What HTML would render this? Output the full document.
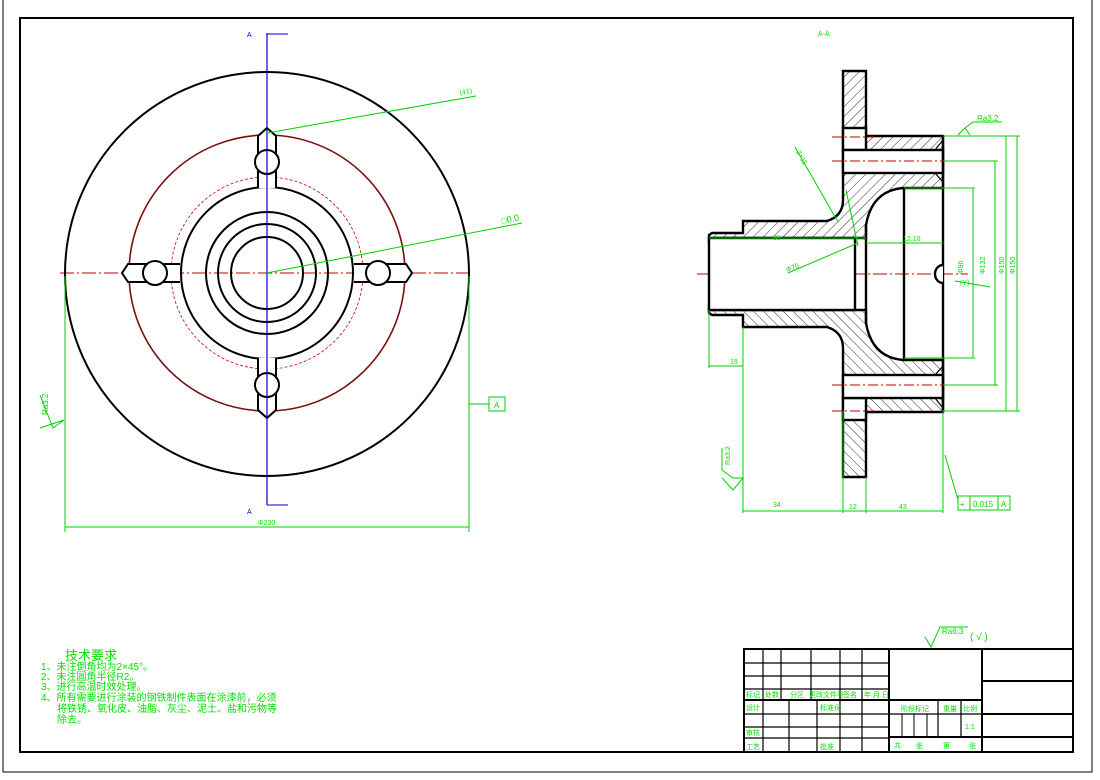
<!DOCTYPE html>
<html><head><meta charset="utf-8"><style>
html,body{margin:0;padding:0;background:#fff;}
svg{display:block;}
text{font-family:"Liberation Sans","Noto Sans CJK SC",sans-serif;fill:#00e000;}
</style></head><body>
<svg width="1100" height="780" viewBox="0 0 1100 780" xmlns="http://www.w3.org/2000/svg">
<defs>
<pattern id="h" width="7" height="7" patternUnits="userSpaceOnUse" patternTransform="rotate(45)">
<rect width="7" height="7" fill="#fff"/><line x1="0" y1="0" x2="0" y2="7" stroke="#000" stroke-width="0.8"/>
</pattern>
</defs>
<rect width="1100" height="780" fill="#fff"/>
<!-- frames -->
<path d="M3 0 V772 H1092 V0" fill="none" stroke="#000" stroke-width="1"/>
<rect x="20" y="18" width="1053" height="734" fill="none" stroke="#000" stroke-width="2"/>

<!-- LEFT VIEW -->
<g fill="none">
<line x1="60" y1="273" x2="472" y2="273" stroke="#c00000" stroke-width="1" stroke-dasharray="14,3,2,3"/>
<circle cx="267" cy="274" r="202" stroke="#000" stroke-width="2"/>
<circle cx="267" cy="273" r="138" stroke="#7a1010" stroke-width="1.6"/>
<circle cx="267" cy="273" r="96" stroke="#d00000" stroke-width="0.8" stroke-dasharray="3,2"/>
<circle cx="267" cy="273" r="86" stroke="#000" stroke-width="2"/>
<circle cx="267" cy="273" r="61" stroke="#000" stroke-width="2"/>
<circle cx="267" cy="273" r="49" stroke="#000" stroke-width="2"/>
<circle cx="267" cy="273" r="36" stroke="#000" stroke-width="2"/>
<g stroke="#000" stroke-width="2" fill="#fff">
<path d="M258 188 V136 L267 128 L276 136 V188"/>
<circle cx="267" cy="162" r="12"/>
<path d="M258 358 V410 L267 418 L276 410 V358"/>
<circle cx="267" cy="385" r="12"/>
<path d="M180 264 H128 L122 273 L128 282 H180"/>
<circle cx="155" cy="273" r="12"/>
<path d="M354 264 H406 L412 273 L406 282 H354"/>
<circle cx="378" cy="273" r="12"/>
</g>
<line x1="267" y1="33" x2="267" y2="505" stroke="#0000d0" stroke-width="1.2"/>
<line x1="267" y1="34" x2="288" y2="34" stroke="#0000d0" stroke-width="1"/>
<line x1="267" y1="505" x2="288" y2="505" stroke="#0000d0" stroke-width="1"/>
<g stroke="#00d000" stroke-width="1">
<line x1="267" y1="133" x2="476" y2="96"/>
<line x1="267" y1="273" x2="522" y2="223"/>
<line x1="65" y1="276" x2="65" y2="532"/>
<line x1="469" y1="276" x2="469" y2="532"/>
<line x1="65" y1="527" x2="469" y2="527"/>
<line x1="469" y1="404" x2="489" y2="404"/>
<rect x="489" y="397" width="16" height="14"/>
<path d="M40 395 L53 428 L64 420 L40 428"/>
</g>
</g>
<text x="247" y="37" font-size="7" style="fill:#0000d0">A</text>
<text x="247" y="514" font-size="7" style="fill:#0000d0">A</text>
<text x="460" y="95" font-size="7" transform="rotate(-10 460 95)">(41)</text>
<text x="502" y="224" font-size="9" transform="rotate(-12 502 224)">□0.0</text>
<text x="258" y="525" font-size="7">Φ230</text>
<text x="494" y="408" font-size="8">A</text>
<text x="48" y="415" font-size="8" transform="rotate(-90 48 415)">Ra3.2</text>

<!-- RIGHT VIEW -->
<text x="818" y="36" font-size="7">A-A</text>
<line x1="697" y1="274" x2="968" y2="274" stroke="#c00000" stroke-width="1" stroke-dasharray="14,3,2,3"/>
<g id="half" stroke="#000" stroke-width="2.4">
<path d="M843 71 H866 V136 H943 V188 H904 Q872 190 866 225 V238 H712 L709 241 V235 L712 233 H743 V221 H827 Q843 216 843 200 Z" fill="url(#h)"/>
<rect x="843" y="128" width="23" height="22" fill="#fff"/>
<rect x="843" y="150" width="100" height="23" fill="#fff"/>
<line x1="935" y1="150" x2="943" y2="140" stroke-width="1.2"/>
<line x1="935" y1="173" x2="943" y2="182" stroke-width="1.2"/>
</g>
<g transform="translate(0,548) scale(1,-1)" stroke="#000" stroke-width="2.4">
<path d="M843 71 H866 V136 H943 V188 H904 Q872 190 866 225 V238 H712 L709 241 V235 L712 233 H743 V221 H827 Q843 216 843 200 Z" fill="url(#h)"/>
<rect x="843" y="128" width="23" height="22" fill="#fff"/>
<rect x="843" y="150" width="100" height="23" fill="#fff"/>
<line x1="935" y1="150" x2="943" y2="140" stroke-width="1.2"/>
<line x1="935" y1="173" x2="943" y2="182" stroke-width="1.2"/>
</g>
<g fill="none" stroke="#000" stroke-width="2.4">
<rect x="709" y="238" width="146" height="72" fill="#fff"/>
<line x1="904" y1="188" x2="904" y2="360"/>
<line x1="866" y1="225" x2="866" y2="323"/>
<line x1="943" y1="136" x2="943" y2="411"/>
<path d="M943 265 A8 9 0 0 0 943 283" fill="#fff"/>
</g>
<g stroke="#c00000" stroke-width="1" stroke-dasharray="10,3,2,3">
<line x1="832" y1="137" x2="875" y2="137"/>
<line x1="832" y1="161" x2="955" y2="161"/>
<line x1="832" y1="385" x2="955" y2="385"/>
<line x1="832" y1="411" x2="875" y2="411"/>
</g>
<g stroke="#00d000" stroke-width="1" fill="none">
<line x1="943" y1="136" x2="1020" y2="136"/>
<line x1="943" y1="411" x2="1020" y2="411"/>
<line x1="943" y1="161" x2="998" y2="161"/>
<line x1="943" y1="385" x2="998" y2="385"/>
<line x1="904" y1="188" x2="975" y2="188"/>
<line x1="904" y1="358" x2="975" y2="358"/>
<line x1="973" y1="188" x2="973" y2="358"/>
<line x1="995" y1="161" x2="995" y2="385"/>
<line x1="1006" y1="136" x2="1006" y2="411"/>
<line x1="1017" y1="136" x2="1017" y2="411"/>
<path d="M958 135 L965 128 L970 135 M965 128 L973 122 H1002"/>
<line x1="709" y1="310" x2="709" y2="368"/>
<line x1="743" y1="327" x2="743" y2="513"/>
<line x1="709" y1="366" x2="743" y2="366"/>
<line x1="843" y1="411" x2="843" y2="513"/>
<line x1="866" y1="477" x2="866" y2="513"/>
<line x1="943" y1="411" x2="943" y2="513"/>
<line x1="743" y1="511" x2="943" y2="511"/>
<line x1="709" y1="238" x2="866" y2="238"/>
<line x1="866" y1="243" x2="943" y2="243"/>
<line x1="788" y1="273" x2="858" y2="243"/>
<line x1="795" y1="147" x2="838" y2="222"/>
<line x1="846" y1="190" x2="858" y2="246"/>
<line x1="955" y1="281" x2="990" y2="287"/>
<line x1="945" y1="455" x2="958" y2="500"/>
<rect x="958" y="496" width="52" height="14"/>
<line x1="970" y1="496" x2="970" y2="510"/>
<line x1="998" y1="496" x2="998" y2="510"/>
<path d="M722 448 V470 L733 478 L743 478 L733 490 L722 478"/>
</g>
<text x="773" y="240" font-size="7">65</text>
<text x="903" y="241" font-size="7">12.10</text>
<text x="787" y="272" font-size="7" transform="rotate(-20 787 272)">Φ70</text>
<text x="963" y="274" font-size="7" transform="rotate(-90 963 274)">Φ96</text>
<text x="985" y="274" font-size="7" transform="rotate(-90 985 274)">Φ132</text>
<text x="1004" y="274" font-size="7" transform="rotate(-90 1004 274)">Φ150</text>
<text x="1015" y="274" font-size="7" transform="rotate(-90 1015 274)">Φ150</text>
<text x="977" y="121" font-size="8">Ra3.2</text>
<text x="730" y="364" font-size="7">19</text>
<text x="773" y="507" font-size="7">34</text>
<text x="849" y="509" font-size="7">12</text>
<text x="899" y="509" font-size="7">43</text>
<text x="960" y="507" font-size="8">⌖</text>
<text x="973" y="507" font-size="8">0.015</text>
<text x="1001" y="507" font-size="8">A</text>
<text x="796" y="152" font-size="7" transform="rotate(60 796 152)">2×11</text>
<text x="960" y="285" font-size="7">(Y)</text>
<text x="730" y="465" font-size="7" transform="rotate(-90 730 465)">Ra3.2</text>

<!-- Tech requirements -->
<g font-size="10">
<text x="65" y="660" font-size="13">技术要求</text>
<text x="41" y="670">1、未注倒角均为2×45°。</text>
<text x="41" y="680">2、未注圆角半径R2。</text>
<text x="41" y="690">3、进行高温时效处理。</text>
<text x="41" y="701">4、所有需要进行涂装的钢铁制件表面在涂漆前，必须</text>
<text x="57" y="712">将铁锈、氧化皮、油脂、灰尘、泥土、盐和污物等</text>
<text x="57" y="723">除去。</text>
</g>

<!-- roughness note -->
<path d="M925 637 L931 647 L940 627 H968" fill="none" stroke="#00d000" stroke-width="1"/>
<text x="942" y="634" font-size="8">Ra6.3</text>
<text x="970" y="640" font-size="10">( √ )</text>

<!-- title block -->
<g stroke="#000" fill="none">
<rect x="744" y="649" width="329" height="103" stroke-width="2"/>
<line x1="889" y1="649" x2="889" y2="752" stroke-width="2"/>
<line x1="982" y1="649" x2="982" y2="752" stroke-width="2"/>
<line x1="982" y1="681" x2="1073" y2="681" stroke-width="2"/>
<line x1="982" y1="714" x2="1073" y2="714" stroke-width="2"/>
<line x1="982" y1="737" x2="1073" y2="737" stroke-width="2"/>
<line x1="744" y1="700" x2="982" y2="700" stroke-width="2"/>
<line x1="889" y1="737" x2="982" y2="737" stroke-width="2"/>
<line x1="889" y1="714" x2="982" y2="714" stroke-width="1.2"/>
<line x1="938" y1="700" x2="938" y2="737" stroke-width="1.2"/>
<line x1="961" y1="700" x2="961" y2="737" stroke-width="1.2"/>
<line x1="902" y1="714" x2="902" y2="737" stroke-width="1"/>
<line x1="914" y1="714" x2="914" y2="737" stroke-width="1"/>
<line x1="927" y1="714" x2="927" y2="737" stroke-width="1"/>
<g stroke-width="1.2">
<line x1="744" y1="663" x2="889" y2="663"/>
<line x1="744" y1="676" x2="889" y2="676"/>
<line x1="744" y1="689" x2="889" y2="689"/>
<line x1="744" y1="714" x2="889" y2="714"/>
<line x1="744" y1="727" x2="889" y2="727"/>
<line x1="744" y1="738" x2="889" y2="738"/>
<line x1="763" y1="649" x2="763" y2="700"/>
<line x1="781" y1="649" x2="781" y2="700"/>
<line x1="811" y1="649" x2="811" y2="700"/>
<line x1="840" y1="649" x2="840" y2="752"/>
<line x1="862" y1="649" x2="862" y2="752"/>
<line x1="763" y1="700" x2="763" y2="752"/>
<line x1="789" y1="700" x2="789" y2="752"/>
<line x1="817" y1="700" x2="817" y2="752"/>
</g>
</g>
<g font-size="7">
<text x="746" y="697">标记</text><text x="765" y="697">处数</text><text x="790" y="697">分区</text>
<text x="809" y="697">更改文件号</text><text x="843" y="697">签名</text><text x="864" y="697">年.月.日</text>
<text x="746" y="710">设计</text><text x="820" y="710">标准化</text>
<text x="746" y="735">审核</text>
<text x="746" y="749">工艺</text><text x="820" y="749">批准</text>
<text x="901" y="711">阶段标记</text><text x="943" y="711">重量</text><text x="963" y="711">比例</text>
<text x="965" y="729">1:1</text>
<text x="894" y="748">共</text><text x="916" y="748">张</text><text x="943" y="748">第</text><text x="969" y="748">张</text>
</g>
</svg>
</body></html>
